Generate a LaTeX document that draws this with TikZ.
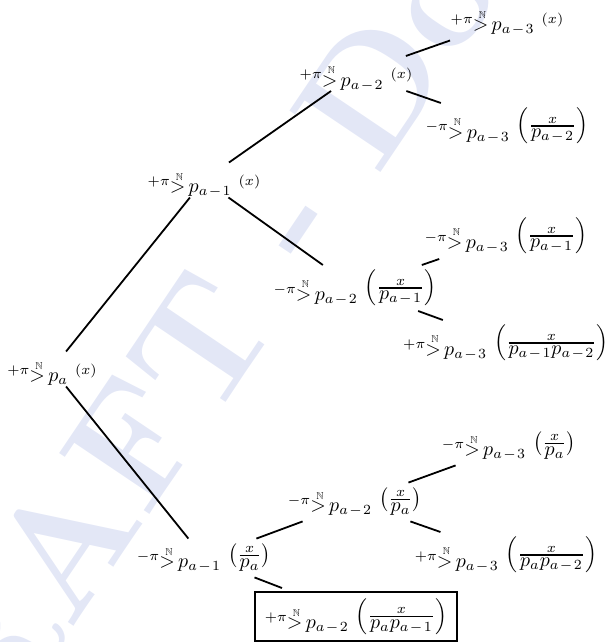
\documentclass[tikz,border=0pt]{standalone}
\usepackage{amsmath,amssymb}
\definecolor{wmcol}{RGB}{227,231,246}
\newcommand{\am}[1]{a\mkern1.5mu-\mkern1.5mu#1}
\newcommand{\PiN}[3]{\mbox{$\scriptstyle #1\pi$}\rlap{\hspace{3pt}\raisebox{2.6pt}{$\scriptscriptstyle\mathbb{N}$}}\raisebox{-3.6pt}{$\mathord{>}\,p_{#2}$}\hspace{3.5pt}#3}
\newcommand{\Xa}{\mbox{$\scriptstyle(x)$}}
\newcommand{\FrB}[1]{$\Bigl(\genfrac{}{}{0.8pt}{}{\scriptstyle x}{\textstyle #1}\Bigr)$}
\newcommand{\FrS}[1]{$\bigl(\genfrac{}{}{0.8pt}{}{\scriptstyle x}{\textstyle #1}\bigr)$}
\tikzset{
  lab/.style={inner sep=0pt, outer sep=2.5pt},
  xlab/.style={inner sep=0pt, outer sep=3.5pt, text height=8pt, text depth=2.5pt},
  conn/.style={line width=0.9pt},
  boxed/.style={lab, draw, outer sep=2pt, line width=1.3pt, minimum width=101pt, minimum height=24.5pt},
  wm/.style={text=wmcol, font=\fontsize{80}{80}\selectfont\bfseries, inner sep=0pt, rotate=56}
}
\begin{document}
\begin{tikzpicture}[x=0.5pt,y=-0.5pt]
\useasboundingbox (0,0) rectangle (607,642);
\begin{scope}
\clip (0,0) rectangle (607,642);
\coordinate (wp) at (377,178);
\node[wm, anchor=base east] (wm1) at (wp) {DRAFT -\kern.33em};
\node[wm, anchor=base west] (wm2) at (wp) {Do not distribute};
\end{scope}
\node[xlab] (A) at (52,369) {\PiN{+}{a}{\Xa}};
\node[xlab] (B) at (204,180) {\PiN{+}{\am1}{\Xa}};
\node[xlab] (C) at (356,73.5) {\PiN{+}{\am2}{\Xa}};
\node[xlab, text depth=5pt] (D) at (507,20.5) {\PiN{+}{\am3}{\Xa}};
\node[lab] (E) at (507,126) {\PiN{-}{\am3}{\FrB{p_{\am2}}}};
\node[lab] (G) at (355,288) {\PiN{-}{\am2}{\FrB{p_{\am1}}}};
\node[lab] (F) at (506,236) {\PiN{-}{\am3}{\FrB{p_{\am1}}}};
\node[lab] (H) at (506,343) {\PiN{+}{\am3}{\FrB{p_{\am1}p_{\am2}}}};
\node[lab] (L) at (204,558) {\PiN{-}{\am1}{\FrS{p_a}}};
\node[lab] (J) at (355,502) {\PiN{-}{\am2}{\FrS{p_a}}};
\node[lab] (I) at (509,446) {\PiN{-}{\am3}{\FrS{p_a}}};
\node[lab] (K) at (506,555) {\PiN{+}{\am3}{\FrB{p_ap_{\am2}}}};
\node[boxed] (M) at (356,616.5) {\PiN{+}{\am2}{\FrB{p_ap_{\am1}}}};
\draw[conn] (A) -- (B);
\draw[conn] (A) -- (L);
\draw[conn] (B) -- (C);
\draw[conn] (B) -- (G);
\draw[conn] (C) -- (D);
\draw[conn] (C) -- (E);
\draw[conn] (G) -- (F);
\draw[conn] (G) -- (H);
\draw[conn] (L) -- (J);
\draw[conn] (L) -- (M);
\draw[conn] (J) -- (I);
\draw[conn] (J) -- (K);
\end{tikzpicture}
\end{document}
